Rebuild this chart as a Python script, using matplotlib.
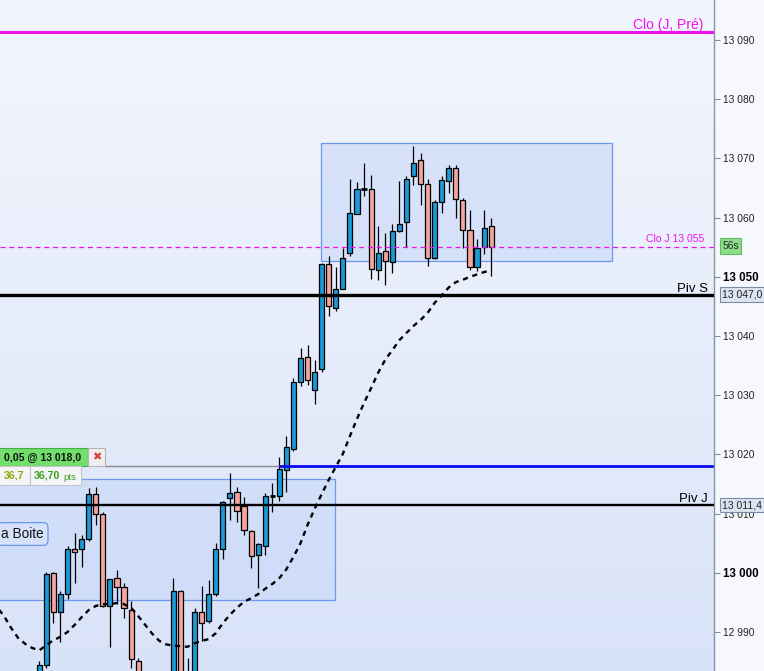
import matplotlib
matplotlib.use("Agg")
import matplotlib.pyplot as plt
import numpy as np
from matplotlib.patches import Rectangle
from matplotlib.colors import LinearSegmentedColormap

plt.rcParams['font.family'] = ['Liberation Sans', 'DejaVu Sans']

# candles, index 0 = first candle at the left of the screen
opens = [12981.0, 12984.5, 12999.9, 12993.3, 12996.5, 13004.1, 13004.0, 13005.7, 13013.3, 13009.9,
         12994.4, 12999.1, 12997.6, 12993.8, 12985.1, 12979.0, 12974.0, 12975.5, 12978.5, 12977.0,
         12997.0, 12980.0, 12981.5, 12993.4, 12991.9, 12996.5, 13004.0, 13012.6, 13013.6, 13011.3,
         13007.1, 13003.0, 13004.6, 13013.0, 13012.9, 13017.3, 13020.9, 13032.3, 13036.4, 13030.8,
         13034.4, 13052.1, 13044.8, 13047.9, 13054.0, 13060.6, 13064.9, 13064.8, 13051.1, 13054.3,
         13052.5, 13057.8, 13059.2, 13067.1, 13069.7, 13065.6, 13053.2, 13062.6, 13066.1, 13068.3,
         13063.0, 13057.9, 13051.7, 13055.0, 13058.5]
highs = [12985.1, 13000.2, 13000.2, 12997.0, 13004.5, 13006.7, 13006.4, 13014.3, 13014.5, 13010.2,
         12999.0, 13000.5, 12998.2, 12995.3, 12985.6, 12981.0, 12977.0, 12980.0, 12982.0, 12999.1,
         12997.1, 12985.6, 12994.0, 12997.7, 12998.8, 13005.0, 13012.2, 13016.8, 13014.5, 13012.8,
         13007.3, 13005.0, 13013.4, 13015.1, 13019.6, 13023.1, 13032.9, 13038.0, 13038.5, 13036.0,
         13052.4, 13053.5, 13051.6, 13054.8, 13066.5, 13066.0, 13069.2, 13067.2, 13058.6, 13057.4,
         13058.9, 13066.2, 13067.0, 13072.1, 13070.9, 13066.6, 13062.9, 13067.0, 13068.9, 13068.9,
         13063.3, 13061.3, 13056.4, 13061.3, 13059.9]
lows = [12979.5, 12984.0, 12991.5, 12988.3, 12995.5, 12998.2, 13000.9, 13005.4, 13008.1, 12994.2,
        12987.5, 12994.8, 12992.3, 12984.0, 12976.0, 12972.0, 12970.0, 12973.0, 12975.0, 12976.0,
        12978.0, 12977.0, 12980.0, 12988.4, 12991.5, 12996.0, 13002.3, 13008.9, 13008.6, 13006.4,
        13000.8, 12997.4, 13003.0, 13010.3, 13012.1, 13013.7, 13020.5, 13031.6, 13031.7, 13028.5,
        13034.0, 13043.3, 13044.2, 13047.9, 13053.5, 13060.6, 13063.7, 13049.6, 13049.5, 13048.6,
        13050.6, 13057.6, 13055.1, 13065.5, 13062.2, 13051.8, 13053.0, 13060.7, 13064.2, 13059.9,
        13054.8, 13051.1, 13050.9, 13053.9, 13050.1]
closes = [12984.5, 12999.8, 12993.3, 12996.4, 13004.1, 13003.5, 13005.7, 13013.3, 13009.9, 12994.4,
          12998.9, 12997.6, 12994.0, 12985.4, 12979.0, 12974.0, 12975.5, 12978.5, 12977.0, 12997.0,
          12979.5, 12982.5, 12993.3, 12991.6, 12996.5, 13004.0, 13012.0, 13013.4, 13010.4, 13007.3,
          13002.9, 13004.8, 13013.0, 13013.1, 13017.5, 13021.3, 13032.3, 13036.2, 13032.5, 13034.0,
          13052.1, 13045.1, 13047.9, 13053.1, 13060.7, 13064.8, 13064.8, 13051.3, 13054.1, 13052.7,
          13057.8, 13059.0, 13066.6, 13069.3, 13065.6, 13053.1, 13062.6, 13066.3, 13068.3, 13063.1,
          13057.9, 13051.7, 13054.8, 13058.3, 13055.1]

# moving average, starts 6 candles before index 0
ma_first = -6
ma_values = [12994.2, 12992.7, 12990.7, 12989.0, 12988.0, 12987.3,
             12986.9, 12987.8, 12988.6, 12989.2, 12990.0, 12991.2, 12992.5, 12993.7, 12994.4, 12994.7,
             12994.7, 12994.9, 12994.7, 12994.1, 12992.7, 12991.2, 12989.7, 12988.5, 12987.9, 12987.7,
             12987.6, 12987.5, 12988.1, 12988.5, 12988.8, 12989.8, 12991.5, 12992.9, 12994.1, 12995.1,
             12995.7, 12996.4, 12997.3, 12998.1, 12999.1, 13000.6, 13002.7, 13005.0, 13008.1, 13010.8,
             13013.3, 13015.7, 13017.9, 13020.1, 13023.1, 13026.0, 13028.7, 13031.2, 13033.8, 13036.0,
             13037.6, 13039.3, 13040.5, 13041.7, 13042.7, 13043.9, 13045.6, 13046.9, 13048.2, 13049.1,
             13049.5, 13050.0, 13050.4, 13050.8, 13051.1]

clo_pre = 13091.35
clo_j = 13055.1
piv_s = 13047.0
piv_j = 13011.4
order_price = 13018.0
box_top = (39.94, 81.08, 13052.67, 13072.55)   # x0, x1, y0, y1
box_low = (-8.0, 41.88, 12995.4, 13015.8)
yticks = [12990, 13000, 13010, 13020, 13030, 13040, 13050, 13060, 13070, 13080, 13090]

W, H = 764, 671
AXW = 714
X0, DX = 39.3, 7.06      # pixel of candle 0, pixels per candle
PY0, PPP = 40, 5.92      # pixel row of 13090, pixels per point


def px2x(px):
    return (px - X0) / DX


def py2p(py):
    return 13090 - (py - PY0) / PPP


def fx(px):
    return px / W


def fy(py):
    return 1 - py / H


fig = plt.figure(figsize=(W / 100, H / 100), dpi=100)
fig.patch.set_facecolor('#f6f8fd')
ax = fig.add_axes([0, 0, AXW / W, 1])

xmin, xmax = px2x(0), px2x(AXW)
ymin, ymax = py2p(H), py2p(0)

# background gradient
bg = LinearSegmentedColormap.from_list('bg', ['#f3f6fd', '#d9e3f8'])
ax.imshow(np.linspace(0, 1, 256).reshape(-1, 1), aspect='auto', cmap=bg,
          extent=(xmin, xmax, ymin, ymax), origin='upper', zorder=0)

# boxes
for bx0, bx1, by0, by1 in (box_top, box_low):
    ax.add_patch(Rectangle((bx0, by0), bx1 - bx0, by1 - by0, facecolor='#c6d7f8',
                           alpha=0.55, edgecolor='none', zorder=1))
    ax.add_patch(Rectangle((bx0, by0), bx1 - bx0, by1 - by0, facecolor='none',
                           edgecolor='#6b97ec', lw=0.9, zorder=1.1))

# candles
o = np.array(opens)
h = np.array(highs)
l = np.array(lows)
c = np.array(closes)
idx = np.arange(len(o))
up = c > o + 0.25
down = c < o - 0.25
doji = ~(up | down)
ax.vlines(idx, l, h, color='black', lw=0.9, zorder=3)
ax.bar(idx[up], (c - o)[up], bottom=o[up], width=0.72, color='#1a9ad6',
       edgecolor='black', linewidth=0.9, zorder=4)
ax.bar(idx[down], (o - c)[down], bottom=c[down], width=0.72, color='#f4a5a0',
       edgecolor='black', linewidth=0.9, zorder=4)
ax.hlines(((o + c) / 2)[doji], idx[doji] - 0.38, idx[doji] + 0.38, color='black', lw=2, zorder=4)

# moving average
ma_x = np.arange(ma_first, ma_first + len(ma_values))
ax.plot(ma_x, ma_values, color='black', lw=1.7, linestyle=(0, (2.2, 2.0)), zorder=5)

# horizontal levels
ax.axhline(clo_pre, color='#ee11ee', lw=2.2, zorder=6)
ax.axhline(clo_j, color='#ee11ee', lw=0.9, linestyle=(0, (4, 3)), zorder=6)
ax.axhline(piv_s, color='black', lw=2.4, zorder=6)
ax.axhline(piv_j, color='black', lw=1.7, zorder=6)
ax.hlines(order_price, px2x(105), px2x(279), color='#8c8c8c', lw=1.0, zorder=6)
ax.hlines(order_price, px2x(279), xmax, color='#0a0af0', lw=2.0, zorder=6)

ax.text(px2x(703), py2p(28.5), 'Clo (J, Pré)', color='#ee11ee', fontsize=10,
        ha='right', va='baseline', zorder=7)
ax.text(px2x(704), py2p(242.5), 'Clo J 13 055', color='#ee11ee', fontsize=7.5,
        ha='right', va='baseline', zorder=7)
ax.text(px2x(708), py2p(291.5), 'Piv S', color='black', fontsize=9.5,
        ha='right', va='baseline', zorder=7)
ax.text(px2x(708), py2p(501.5), 'Piv J', color='black', fontsize=9.5,
        ha='right', va='baseline', zorder=7)

ax.set_xlim(xmin, xmax)
ax.set_ylim(ymin, ymax)

# right price axis
ax.yaxis.tick_right()
ax.set_yticks(yticks)
ax.set_yticklabels([f"{v:,}".replace(",", " ") for v in yticks])
ax.tick_params(axis='y', length=4, width=0.8, color='#7f8fa0', pad=2.5,
               labelsize=7.4, labelcolor='#222222')
for lab, v in zip(ax.get_yticklabels(), yticks):
    if v in (13000, 13050):
        lab.set_fontweight('bold')
        lab.set_fontsize(8.3)
        lab.set_color('black')
ax.set_xticks([])
for s in ('top', 'left', 'bottom'):
    ax.spines[s].set_visible(False)
ax.spines['right'].set_color('#8495a6')
ax.spines['right'].set_linewidth(1.0)


def fig_box(x0, y0, x1, y1, fc, ec, lw=0.8):
    fig.add_artist(Rectangle((fx(x0), fy(y1)), (x1 - x0) / W, (y1 - y0) / H,
                             transform=fig.transFigure, facecolor=fc, edgecolor=ec,
                             lw=lw, zorder=10))


# price tags on the axis
fig_box(720, 287, 766, 302, '#dde4f1', '#7b8ba2')
fig.text(fx(722), fy(294.5), '13 047,0', fontsize=7.5, va='center', color='#222222', zorder=11)
fig_box(720, 498, 766, 512, '#dde4f1', '#7b8ba2')
fig.text(fx(722), fy(505), '13 011,4', fontsize=7.5, va='center', color='#222222', zorder=11)
fig_box(720, 238, 741, 254, '#8fdc8c', '#62bb62')
fig.text(fx(730.5), fy(246), '56s', fontsize=7.5, ha='center', va='center', color='#1d301d', zorder=11)

# order tag
fig_box(-2, 448, 88, 466, '#72de6c', '#43b043')
fig.text(fx(4), fy(457.5), '0,05 @ 13 018,0', fontsize=7.6, fontweight='bold',
         va='center', color='#111111', zorder=11)
fig_box(88, 448, 105, 466, '#eeeeee', '#b4b4b4')
fig.text(fx(96.5), fy(457.5), '\u2716', fontsize=8, family=['DejaVu Sans'],
         ha='center', va='center', color='#e03c3c', zorder=11)
fig_box(-2, 466, 30, 485, '#f3f5f7', '#c3c7cc')
fig_box(30, 466, 81, 485, '#f3f5f7', '#c3c7cc')
fig.text(fx(4), fy(476), '36,7', fontsize=7.6, fontweight='bold', va='center',
         color='#93a300', zorder=11)
fig.text(fx(34), fy(476), '36,70', fontsize=7.6, fontweight='bold', va='center',
         color='#3f9c22', zorder=11)
fig.text(fx(63.5), fy(477), 'pts', fontsize=6.8, va='center', color='#3f9c22', zorder=11)

# box label
fig.text(fx(1), fy(534), 'a Boite', fontsize=9.8, va='center', color='#111111', zorder=11,
         bbox=dict(boxstyle='round,pad=0.32,rounding_size=0.35', fc='#d6e2fb', ec='#6b97ec', lw=0.9))

fig.savefig('out.png', dpi=100, facecolor=fig.get_facecolor())
